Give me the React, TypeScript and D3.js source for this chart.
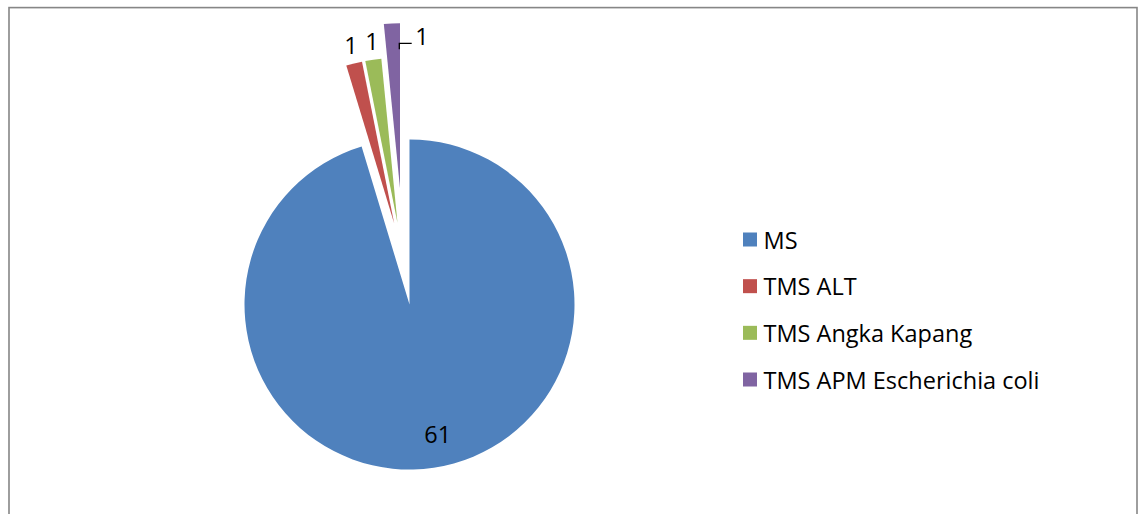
import React from "react";
import * as d3 from "d3";

// Sample categories and counts
const categories = ["MS", "TMS ALT", "TMS Angka Kapang", "TMS APM Escherichia coli"];
const counts = [61, 1, 1, 1];
const colors = ["#4F81BD", "#C0504D", "#9BBB59", "#8064A2"];

// Pull-out of each slice away from the pie centre, as [dx, dy] in px
const explodeOffset: [number, number][] = [
  [0, 0],
  [-15.3, -81],
  [-12, -81.6],
  [-9.5, -116.2],
];

const W = 1140;
const H = 514;
const cx = 409.5;
const cy = 304.5;
const R = 165;
const FONT = "'Open Sans', sans-serif";
const FS = 23.5;

export default function App() {
  const pie = d3
    .pie<number>()
    .sort(null)
    .value((d) => d)
    .startAngle(0)
    .endAngle(Math.PI * 2);
  const arcs = pie(counts);
  const arc = d3.arc<d3.PieArcDatum<number>>().innerRadius(0).outerRadius(R);

  const polar = (a: number, r: number): [number, number] => [Math.sin(a) * r, -Math.cos(a) * r];

  const legendY = d3.scalePoint<string>().domain(categories).range([239.5, 379.5]);

  return (
    <svg
      width={W}
      height={H}
      style={{ position: "absolute", left: 0, top: 0, background: "#fff" }}
      fontFamily={FONT}
    >
      <rect x={9} y={7.6} width={1128} height={520} fill="#fff" stroke="#868686" strokeWidth={1.6} />
      <g transform={`translate(${cx},${cy})`}>
        {arcs.map((a, i) => {
          const [dx, dy] = explodeOffset[i];
          return (
            <path
              key={categories[i]}
              d={arc(a) || ""}
              transform={`translate(${dx},${dy})`}
              fill={colors[i]}
            />
          );
        })}
        {arcs.map((a, i) => {
          const mid = (a.startAngle + a.endAngle) / 2;
          const [ox, oy] = explodeOffset[i];
          if (i === 0) {
            // inside label, lower part of the big slice
            const [x, y] = polar(mid, 131);
            return (
              <text key={"l" + i} x={x + 9} y={y} fontSize={FS} textAnchor="middle" dominantBaseline="central" fill="#000">
                {counts[i]}
              </text>
            );
          }
          if (i === categories.length - 1) {
            // label moved to the right, joined to the slice by a short leader line
            const [ex, ey] = polar(a.endAngle, R);
            const ax = ex + ox - 0.7;
            const ay = ey + oy + 26;
            const hx = ax + 12.4;
            const hy = ay - 6;
            return (
              <g key={"l" + i}>
                <path
                  d={`M${ax},${ay} V${hy} H${hx}`}
                  fill="none"
                  stroke="#000"
                  strokeWidth={1.3}
                />
                <text x={ax + 22.7} y={ay - 13.6} fontSize={FS} textAnchor="middle" dominantBaseline="central" fill="#000">
                  {counts[i]}
                </text>
              </g>
            );
          }
          const [x, y] = polar(mid, R + 19);
          return (
            <text key={"l" + i} x={x + ox + 1.5} y={y + oy} fontSize={FS} textAnchor="middle" dominantBaseline="central" fill="#000">
              {counts[i]}
            </text>
          );
        })}
      </g>
      <g>
        {categories.map((c, i) => (
          <g key={c} transform={`translate(743,${legendY(c)})`}>
            <rect x={0} y={-7} width={14} height={14} fill={colors[i]} />
            <text x={20.5} y={0} fontSize={FS} dominantBaseline="central" fill="#000">
              {c}
            </text>
          </g>
        ))}
      </g>
    </svg>
  );
}
